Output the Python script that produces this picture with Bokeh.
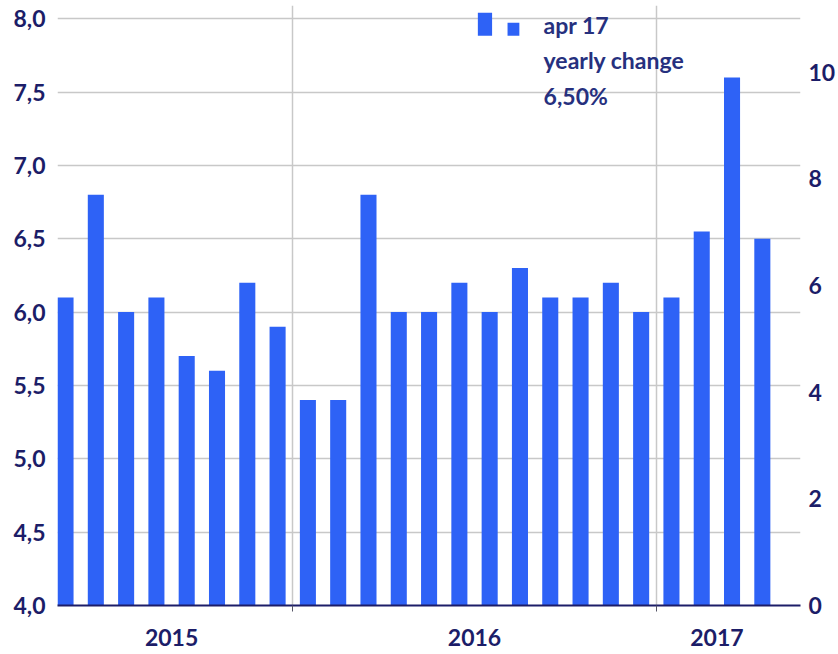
from bokeh.plotting import figure
from bokeh.models import (Range1d, LinearAxis, FixedTicker, CustomJSTickFormatter,
                          Label, ColumnDataSource)
from bokeh.embed import file_html
from bokeh.resources import INLINE

# ---- data ----
months = ["May 15", "Jun 15", "Jul 15", "Aug 15", "Sep 15", "Oct 15", "Nov 15", "Dec 15",
          "Jan 16", "Feb 16", "Mar 16", "Apr 16", "May 16", "Jun 16", "Jul 16", "Aug 16",
          "Sep 16", "Oct 16", "Nov 16", "Dec 16", "Jan 17", "Feb 17", "Mar 17", "Apr 17"]
values = [6.1, 6.8, 6.0, 6.1, 5.7, 5.6, 6.2, 5.9,
          5.4, 5.4, 6.8, 6.0, 6.0, 6.2, 6.0, 6.3,
          6.1, 6.1, 6.2, 6.0, 6.1, 6.55, 7.6, 6.5]
year_labels = ["2015", "2016", "2017"]
year_centers = [3.5, 13.5, 21.5]
year_breaks = [7.5, 19.5]
left_ticks = [4.0, 4.5, 5.0, 5.5, 6.0, 6.5, 7.0, 7.5, 8.0]
right_ticks = [0, 2, 4, 6, 8, 10]
legend_lines = ["apr 17", "yearly change", "6,50%"]

NAVY = "#1c1d68"
BAR = "#2e62f6"
GRID = "#c8c8c8"
FONT = "Lato"

x = list(range(len(values)))
src = ColumnDataSource(dict(x=x, top=values, month=months))

y_lo, y_hi = 4.0, 8.09
p = figure(width=838, height=654, output_backend="svg", toolbar_location=None,
           x_range=Range1d(-0.265, 24.26), y_range=Range1d(y_lo, y_hi),
           min_border_left=57, min_border_right=38, min_border_top=5, min_border_bottom=49)
p.outline_line_color = None
p.background_fill_color = "white"
p.border_fill_color = "white"

# right axis: 0..11 maps to 4..8
ratio = 11.0 / 4.0
p.extra_y_ranges = {"right": Range1d(0, (y_hi - y_lo) * ratio)}

p.vbar(x="x", top="top", bottom=4.0, width=0.53, source=src,
       fill_color=BAR, line_color=None)

def style_labels(ax):
    ax.major_label_text_font = FONT
    ax.major_label_text_font_style = "bold"
    ax.major_label_text_font_size = "23px"
    ax.major_label_text_color = NAVY

# left axis
ya = p.yaxis[0]
ya.ticker = FixedTicker(ticks=left_ticks)
ya.formatter = CustomJSTickFormatter(code="return tick.toFixed(1).replace('.', ',');")
ya.axis_line_color = None
ya.major_tick_line_color = None
ya.minor_tick_line_color = None
ya.major_tick_out = 0
ya.major_tick_in = 0
ya.major_label_standoff = 12
style_labels(ya)

# right axis
ra = LinearAxis(y_range_name="right", ticker=FixedTicker(ticks=right_ticks))
ra.axis_line_color = None
ra.major_tick_line_color = None
ra.minor_tick_line_color = None
ra.major_tick_out = 0
ra.major_tick_in = 0
ra.major_label_standoff = 8
style_labels(ra)
p.add_layout(ra, "right")

# bottom axis
xa = p.xaxis[0]
xa.ticker = FixedTicker(ticks=year_centers, minor_ticks=year_breaks)
xa.major_label_overrides = {c: l for c, l in zip(year_centers, year_labels)}
xa.axis_line_color = NAVY
xa.axis_line_width = 2
xa.major_tick_line_color = None
xa.major_tick_out = 0
xa.major_tick_in = 0
xa.minor_tick_line_color = "#555566"
xa.minor_tick_out = 6
xa.minor_tick_in = 0
xa.major_label_standoff = 17
style_labels(xa)

# grids
p.ygrid.ticker = FixedTicker(ticks=left_ticks[1:])
p.ygrid.grid_line_color = GRID
p.ygrid.grid_line_width = 1.5
p.xgrid.ticker = FixedTicker(ticks=year_breaks)
p.xgrid.grid_line_color = GRID
p.xgrid.grid_line_width = 1.5

# legend (two mini bars + text)
p.quad(left=[13.61, 14.59], right=[14.08, 14.98], bottom=[7.884, 7.884], top=[8.041, 7.973],
       fill_color=BAR, line_color=None)
for txt, yy in zip(legend_lines, [7.96, 7.72, 7.47]):
    p.add_layout(Label(x=15.78, y=yy, text=txt, text_font=FONT, text_font_style="bold",
                       text_font_size="23px", text_color="#26307e",
                       text_baseline="alphabetic", text_align="left"))

open("out.html", "w").write(file_html(p, INLINE))
